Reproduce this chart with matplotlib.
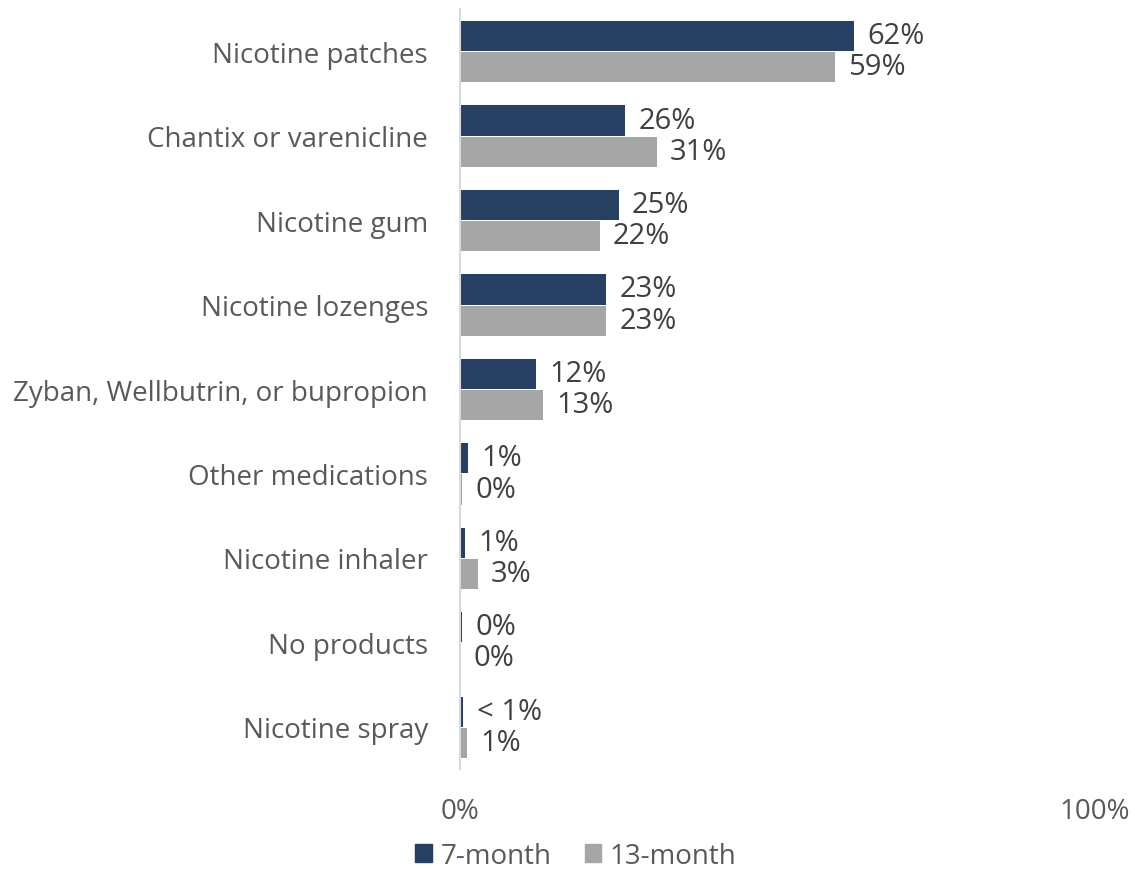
import matplotlib
matplotlib.use("Agg")
import numpy as np
import matplotlib.pyplot as plt
from matplotlib.patches import Patch

categories = [
    "Nicotine patches",
    "Chantix or varenicline",
    "Nicotine gum",
    "Nicotine lozenges",
    "Zyban, Wellbutrin, or bupropion",
    "Other medications",
    "Nicotine inhaler",
    "No products",
    "Nicotine spray",
]
series_names = ["7-month", "13-month"]
values_7 = [62, 26, 25, 23, 12, 1.3, 0.8, 0.3, 0.5]
values_13 = [59, 31, 22, 23, 13, 0.3, 2.8, 0.05, 1.1]
labels_7 = ["62%", "26%", "25%", "23%", "12%", "1%", "1%", "0%", "< 1%"]
labels_13 = ["59%", "31%", "22%", "23%", "13%", "0%", "3%", "0%", "1%"]

navy = "#264064"
grey = "#a6a6a6"
tick_col = "#595959"
lab_col = "#404040"
fs = 20

plt.rcParams["font.family"] = ["Open Sans", "DejaVu Sans"]

fig = plt.figure(figsize=(11.35, 8.7), dpi=100)
ax = fig.add_axes([460 / 1135, 1 - 770 / 870, 635 / 1135, 760 / 870])

y = np.arange(len(categories))
h = 0.37
ax.barh(y - h / 2, values_7, height=h, color=navy, edgecolor="white", linewidth=0.7)
ax.barh(y + h / 2, values_13, height=h, color=grey, edgecolor="white", linewidth=0.7)

# value labels just right of each bar
for yi, v, s in zip(y, values_7, labels_7):
    ax.text(v + 2.1, yi - h / 2, s, va="center", ha="left", fontsize=21, color=lab_col)
for yi, v, s in zip(y, values_13, labels_13):
    ax.text(v + 2.1, yi + h / 2, s, va="center", ha="left", fontsize=21, color=lab_col)

ax.set_xlim(0, 100)
ax.set_ylim(len(categories) - 0.5, -0.5)
ax.set_yticks(y)
ax.set_yticklabels(categories, fontsize=fs, color=tick_col)
ax.set_xticks([0, 100])
ax.set_xticklabels(["0%", "100%"], fontsize=fs, color=tick_col)
ax.tick_params(axis="y", length=0, pad=23)
ax.tick_params(axis="x", length=0, pad=20)
for side in ["top", "right", "bottom"]:
    ax.spines[side].set_visible(False)
ax.spines["left"].set_color("#d9d9d9")
ax.spines["left"].set_linewidth(1.5)

handles = [Patch(color=navy), Patch(color=grey)]
fig.legend(handles, series_names, loc="center", bbox_to_anchor=(576 / 1135, 1 - 857 / 870),
           ncol=2, frameon=False, fontsize=fs, labelcolor=tick_col,
           handlelength=0.6, handleheight=0.6, handletextpad=0.3, columnspacing=1.2)

fig.savefig("out.png", dpi=100)
plt.close(fig)
